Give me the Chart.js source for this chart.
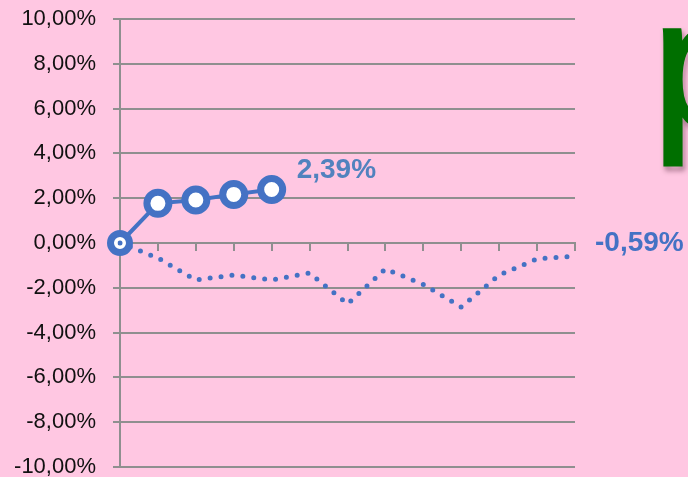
<!DOCTYPE html>
<html>
<head>
<meta charset="utf-8">
<script src="https://cdn.jsdelivr.net/npm/chart.js@4/dist/chart.umd.min.js"></script>
<style>
  html, body { margin: 0; padding: 0; background: #FFC7E2; overflow: hidden; }
  #wrap { position: relative; width: 688px; height: 477px; }
</style>
</head>
<body>
<div id="wrap"><canvas id="lineChart"></canvas></div>
<script>
// 13 periods along the x axis (labels are not shown in the picture)
var periods = ['1','2','3','4','5','6','7','8','9','10','11','12','13'];
// solid series with markers, only the first 5 periods
var solidValues = [0, 1.77, 1.92, 2.17, 2.39, null, null, null, null, null, null, null, null];
// dotted series over all periods
var dottedValues = [0, -0.67, -1.65, -1.43, -1.65, -1.34, -2.72, -1.16, -1.85, -2.86, -1.43, -0.71, -0.59];
var yMin = -10, yMax = 10, yStep = 2;
var sideWord = 'p';

var blue = '#4472C4';
var gridGray = '#8f8f8f';

let fmtPct = (v) => v.toFixed(2).replace('.', ',') + '%';

// draws the value of the last point of a series next to it
let endLabels = {
    id: 'endLabels',
    afterDatasetsDraw: (chart) => {
        let ctx = chart.ctx;
        chart.data.datasets.forEach((ds, i) => {
            if (!ds.endLabel) return;
            let meta = chart.getDatasetMeta(i);
            let last = -1;
            ds.data.forEach((v, j) => { if (v !== null) last = j; });
            let pt = meta.data[last];
            ctx.save();
            ctx.font = 'bold 28px "Liberation Sans", Arial, sans-serif';
            ctx.fillStyle = ds.endLabel.color;
            ctx.textAlign = 'left';
            ctx.textBaseline = 'middle';
            ctx.fillText(fmtPct(ds.data[last]), pt.x + ds.endLabel.dx, pt.y + ds.endLabel.dy);
            ctx.restore();
        });
    }
};

// big green letter cut off at the right edge: stem from x=662, top 26 to bottom 167
let sideText = {
    id: 'sideText',
    afterDraw: (chart) => {
        let ctx = chart.ctx;
        let sw = 3;
        ctx.save();
        let fam = '"Liberation Sans", Arial, sans-serif';
        ctx.font = '100px ' + fam;
        let m = ctx.measureText(sideWord);
        let size = 100 * (141 - sw) / (m.actualBoundingBoxAscent + m.actualBoundingBoxDescent);
        ctx.font = size + 'px ' + fam;
        m = ctx.measureText(sideWord);
        let x = 662 + sw / 2 + m.actualBoundingBoxLeft;
        let y = 26 + sw / 2 + m.actualBoundingBoxAscent;
        ctx.fillStyle = '#006F00';
        ctx.strokeStyle = '#006F00';
        ctx.lineWidth = sw;
        ctx.lineJoin = 'miter';
        ctx.shadowColor = 'rgba(40,0,20,0.5)';
        ctx.shadowBlur = 5;
        ctx.shadowOffsetX = 2;
        ctx.shadowOffsetY = 4;
        ctx.strokeText(sideWord, x, y);
        ctx.shadowColor = 'transparent';
        ctx.fillText(sideWord, x, y);
        ctx.restore();
    }
};

let ctx = document.getElementById('lineChart');
new Chart(ctx, {
    type: 'line',
    data: {
        labels: periods,
        datasets: [
            {
                data: dottedValues,
                borderColor: blue,
                borderWidth: 5,
                borderDash: [0, 11],
                borderCapStyle: 'round',
                pointRadius: 0,
                tension: 0,
                endLabel: { color: blue, dx: 20, dy: -13 }
            },
            {
                data: solidValues,
                borderColor: blue,
                borderWidth: 4,
                pointRadius: [9.5, 11, 11, 11, 11],
                pointBorderWidth: 7,
                pointBackgroundColor: '#ffffff',
                pointBorderColor: blue,
                tension: 0,
                spanGaps: false,
                endLabel: { color: '#5182BE', dx: 25, dy: -19 }
            }
        ]
    },
    options: {
        responsive: true,
        maintainAspectRatio: false,
        animation: false,
        layout: { autoPadding: false, padding: { left: 0, top: 19, right: 113, bottom: 10 } },
        plugins: {
            legend: { display: false },
            tooltip: { enabled: false }
        },
        scales: {
            x: {
                type: 'category',
                position: { y: 0 },
                offset: false,
                ticks: { display: false },
                grid: { drawOnChartArea: false, drawTicks: true, tickLength: 7, color: gridGray, lineWidth: 2 },
                border: { display: true, color: gridGray, width: 2 },
                afterFit: (scale) => { scale.height = 0; }
            },
            y: {
                min: yMin,
                max: yMax,
                ticks: {
                    stepSize: yStep,
                    padding: 17,
                    color: '#111111',
                    font: { family: '"Liberation Sans", Arial, sans-serif', size: 22 },
                    callback: (v) => fmtPct(v)
                },
                grid: { color: gridGray, lineWidth: 2, tickLength: 7 },
                border: { display: true, color: gridGray, width: 2 },
                afterFit: (scale) => {
                    scale.width = 120;
                    scale.paddingTop = 0;
                    scale.paddingBottom = 0;
                }
            }
        }
    },
    plugins: [endLabels, sideText]
});
</script>
</body>
</html>
